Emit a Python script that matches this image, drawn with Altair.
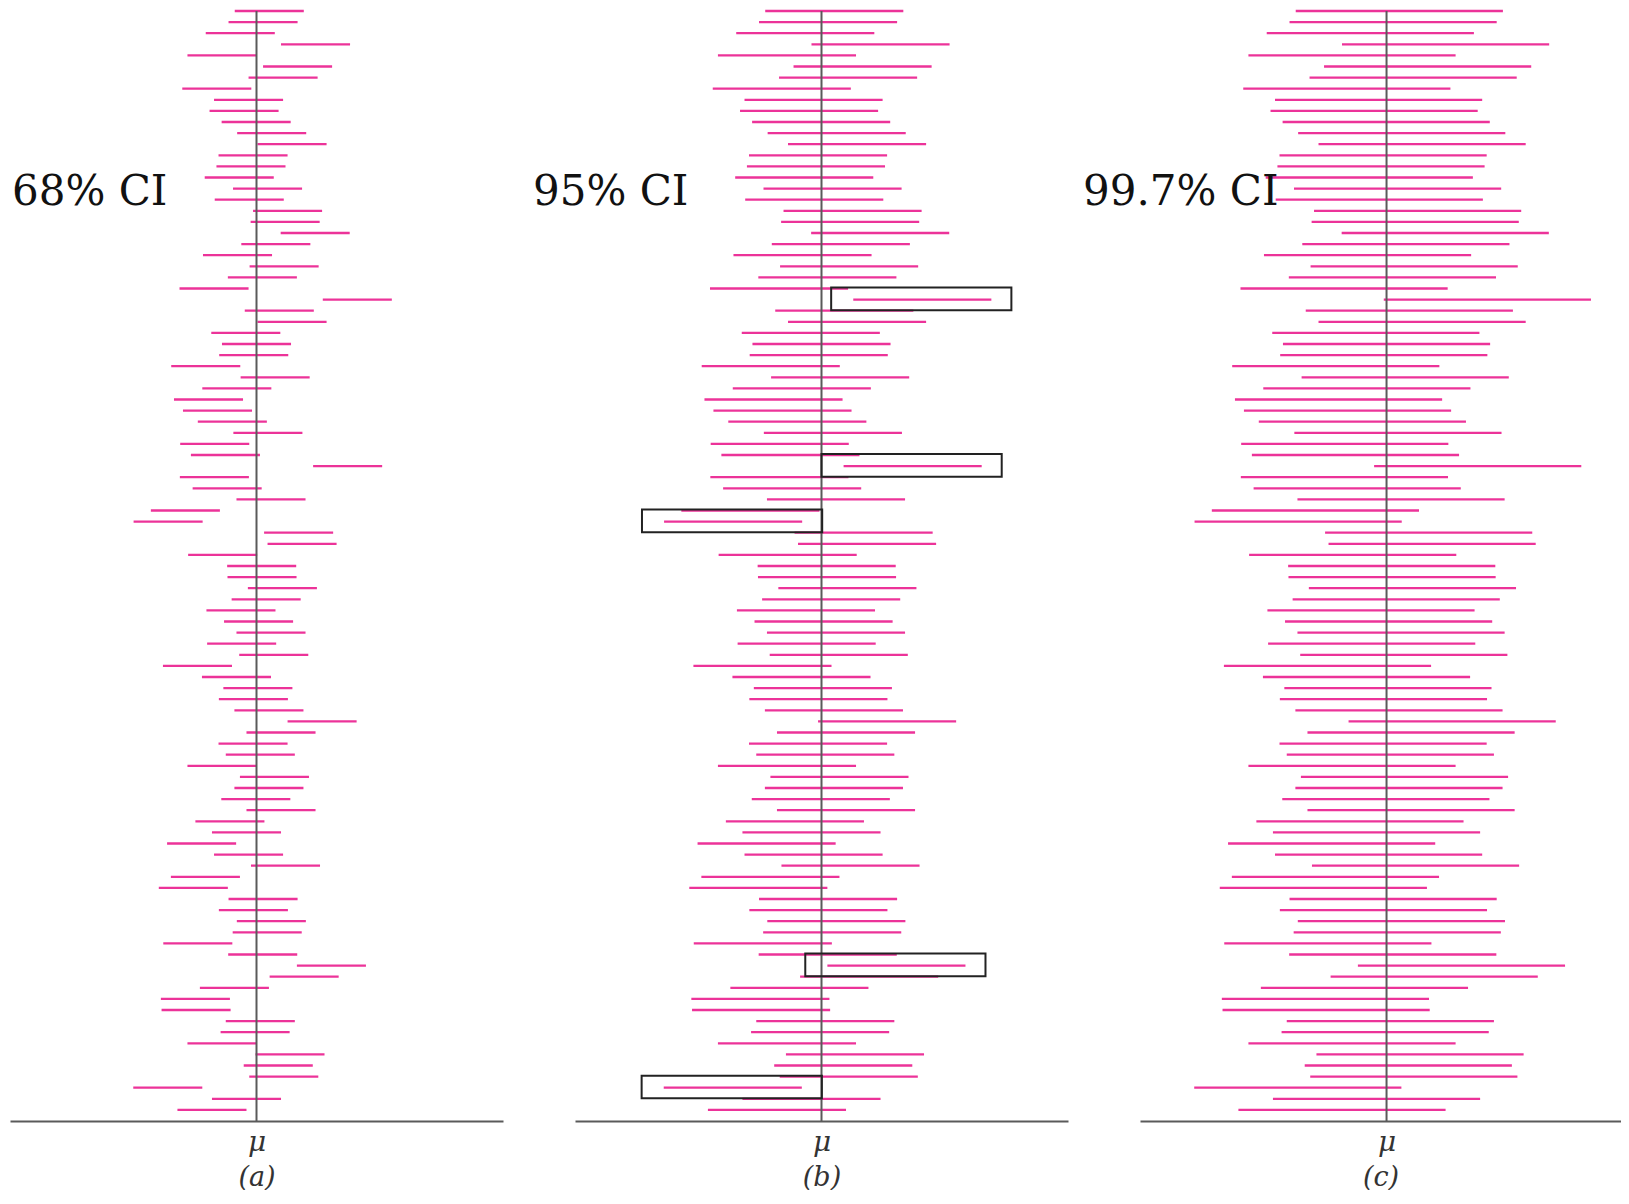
import altair as alt
import pandas as pd

# Centres of the 100 simulated intervals, in units of sigma (mu = 0)
centers = [
    0.37, 0.19, -0.47, 1.71, -1.00, 1.19, 0.77, -1.15, -0.23, -0.36,
    -0.01, 0.44, 1.03, -0.10, -0.16, -0.50, 0.32, -0.21, 0.90, 0.83,
    1.70, 0.56, -0.55, 0.80, 0.17, -1.23, 2.92, 0.66, 1.03, -0.31,
    0.00, -0.08, -1.47, 0.54, -0.57, -1.39, -1.13, -0.70, 0.33, -1.21,
    -0.90, 2.64, -1.22, -0.85, 0.42, -2.06, -2.56, 1.22, 1.32, -0.98,
    0.15, 0.16, 0.75, 0.28, -0.45, 0.06, 0.42, -0.43, 0.50, -1.71,
    -0.58, 0.04, -0.09, 0.36, 1.90, 0.71, -0.10, 0.11, -1.00, 0.52,
    0.36, -0.02, 0.71, -0.77, -0.29, -1.59, -0.23, 0.84, -1.48, -1.83,
    0.19, -0.09, 0.43, 0.31, -1.70, 0.18, 2.17, 1.38, -0.64, -1.77,
    -1.75, 0.11, -0.04, -1.00, 0.97, 0.63, 0.79, -2.57, -0.29, -1.29,
]
boxed_rows = [27, 42, 47, 87, 98]          # intervals outlined in panel (b)
ci_labels = ["68% CI", "95% CI", "99.7% CI"]
ci_mult = [1, 2, 3]
panel_titles = ["(a)", "(b)", "(c)"]
mu_label = "μ"

rows = list(range(1, len(centers) + 1))

LINE = "#ec3399"
GREY = "#5a5a5a"
SERIF = "DejaVu Serif"

label_x = [2, -42, -57]
widths = [493, 493, 481]
x_domains = [[-7.14, 7.14], [-7.14, 7.14], [-7.14, 6.79]]


def panel(i):
    k = ci_mult[i]
    df = pd.DataFrame({"row": rows, "c": centers})
    df["lo"] = df["c"] - k
    df["hi"] = df["c"] + k

    xs = alt.Scale(domain=x_domains[i], nice=False, zero=False)
    ys = alt.Scale(domain=[0.73, len(rows) + 1], reverse=True, nice=False, zero=False)
    xaxis = alt.Axis(
        values=[0], labelExpr=f"'{mu_label}'", ticks=False, grid=False,
        domainColor=GREY, domainWidth=2,
        labelFont=SERIF, labelFontStyle="italic", labelFontSize=28,
        labelColor="#333", labelPadding=7,
        title=panel_titles[i], titleFont=SERIF, titleFontStyle="italic",
        titleFontWeight="normal", titleFontSize=27, titleColor="#333",
        titleBaseline="alphabetic", titleY=64,
    )

    intervals = alt.Chart(df).mark_rule(color=LINE, strokeWidth=2.3).encode(
        x=alt.X("lo:Q", scale=xs, axis=xaxis),
        x2="hi:Q",
        y=alt.Y("row:Q", scale=ys, axis=None),
    )

    mu_df = pd.DataFrame({"lo": [0.0], "row": [rows[0]], "row2": [len(rows) + 1]})
    mu = alt.Chart(mu_df).mark_rule(color=GREY, strokeWidth=2).encode(
        x=alt.X("lo:Q", scale=xs, axis=xaxis),
        y=alt.Y("row:Q", scale=ys, axis=None),
        y2="row2:Q",
    )

    label = alt.Chart(pd.DataFrame({"t": [ci_labels[i]]})).mark_text(
        font=SERIF, fontSize=42, align="left", baseline="alphabetic", color="#111"
    ).encode(text="t:N", x=alt.value(label_x[i]), y=alt.value(197))

    layers = [intervals, mu, label]

    if k == 2:
        bdf = df[df["row"].isin(boxed_rows)].copy()
        bdf["bx"] = bdf["lo"] - 0.64
        bdf["bx2"] = bdf["hi"] + 0.58
        bdf["by"] = bdf["row"] - 1.08
        bdf["by2"] = bdf["row"] + 0.96
        boxes = alt.Chart(bdf).mark_rect(
            fillOpacity=0, stroke="#222", strokeWidth=2
        ).encode(
            x=alt.X("bx:Q", scale=xs, axis=xaxis),
            x2="bx2:Q",
            y=alt.Y("by:Q", scale=ys, axis=None),
            y2="by2:Q",
        )
        layers.append(boxes)

    return alt.layer(*layers).properties(width=widths[i], height=1113)


chart = alt.hconcat(panel(0), panel(1), panel(2), spacing=72, bounds="flush").properties(
    padding={"left": 2, "right": 0, "top": 0, "bottom": 0}
).configure_view(strokeWidth=0, stroke="transparent")

chart.save("out.html", embed_options={"renderer": "svg", "actions": False})
